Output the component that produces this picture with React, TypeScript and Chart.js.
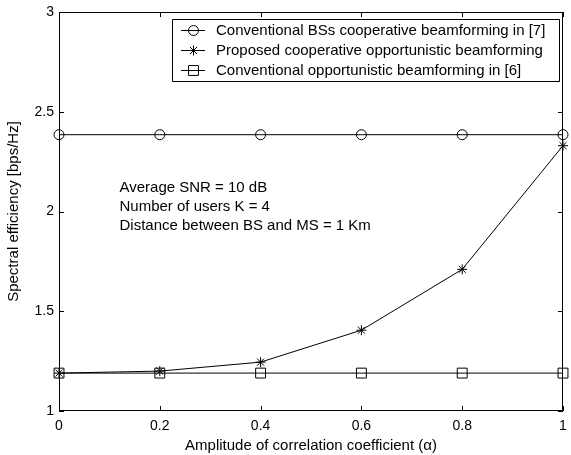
import React, { useEffect, useRef } from 'react';
import { Chart, registerables } from 'chart.js';

Chart.register(...registerables);

const alpha = [0, 0.2, 0.4, 0.6, 0.8, 1];
const conventionalCoop = [2.385, 2.385, 2.385, 2.385, 2.385, 2.385];
const proposedCoopOpp = [1.19, 1.2, 1.245, 1.405, 1.71, 2.33];
const conventionalOpp = [1.19, 1.19, 1.19, 1.19, 1.19, 1.19];
const seriesLabels = [
  'Conventional BSs cooperative beamforming in [7]',
  'Proposed cooperative opportunistic beamforming',
  'Conventional opportunistic beamforming in [6]',
];
const annotationLines = [
  'Average SNR = 10 dB',
  'Number of users K = 4',
  'Distance between BS and MS = 1 Km',
];
const xTitle = 'Amplitude of correlation coefficient (\u03b1)';
const yTitle = 'Spectral efficiency [bps/Hz]';

const FONT = '"Liberation Sans", Arial, sans-serif';

function drawMarker(ctx: CanvasRenderingContext2D, style: string, r: number, x: number, y: number) {
  ctx.save();
  ctx.strokeStyle = '#000';
  ctx.lineWidth = 1;
  ctx.beginPath();
  if (style === 'circle') {
    ctx.arc(x, y, r, 0, Math.PI * 2);
  } else if (style === 'rect') {
    const s = r * Math.SQRT1_2;
    ctx.rect(x - s, y - s, 2 * s, 2 * s);
  } else {
    ctx.moveTo(x - r, y); ctx.lineTo(x + r, y);
    ctx.moveTo(x, y - r); ctx.lineTo(x, y + r);
    const d = r * Math.SQRT1_2;
    ctx.moveTo(x - d, y - d); ctx.lineTo(x + d, y + d);
    ctx.moveTo(x - d, y + d); ctx.lineTo(x + d, y - d);
  }
  ctx.stroke();
  ctx.restore();
}

const framePlugin = {
  id: 'frame',
  afterDraw(chart: any) {
    const { ctx, chartArea } = chart;
    const { left, right, top, bottom } = chartArea;
    const xs = chart.scales.x;
    const ys = chart.scales.y;
    ctx.save();
    ctx.strokeStyle = '#000';
    ctx.lineWidth = 1;
    ctx.beginPath();
    ctx.rect(left + 0.5, top + 0.5, right - left - 1, bottom - top - 1);
    ctx.stroke();
    const tl = 5;
    ctx.beginPath();
    xs.ticks.forEach((t: any) => {
      const px = Math.round(xs.getPixelForValue(t.value)) + 0.5;
      ctx.moveTo(px, bottom);
      ctx.lineTo(px, bottom - tl);
      ctx.moveTo(px, top);
      ctx.lineTo(px, top + tl);
    });
    ys.ticks.forEach((t: any) => {
      const py = Math.round(ys.getPixelForValue(t.value)) + 0.5;
      ctx.moveTo(left, py);
      ctx.lineTo(left + tl, py);
      ctx.moveTo(right, py);
      ctx.lineTo(right - tl, py);
    });
    ctx.stroke();

    // annotation text
    ctx.fillStyle = '#000';
    ctx.font = `15px ${FONT}`;
    ctx.textAlign = 'left';
    ctx.textBaseline = 'alphabetic';
    const ax = xs.getPixelForValue(0.12);
    const ay = ys.getPixelForValue(2.1);
    annotationLines.forEach((s, i) => ctx.fillText(s, ax, ay + i * 19));

    // legend
    const lx = 172, ly = 19, lw = 387, lh = 62;
    ctx.fillStyle = '#fff';
    ctx.fillRect(lx, ly, lw, lh);
    ctx.beginPath();
    ctx.rect(lx + 0.5, ly + 0.5, lw, lh);
    ctx.stroke();
    chart.data.datasets.forEach((ds: any, i: number) => {
      const cy = ly + 11 + i * 20;
      ctx.strokeStyle = '#000';
      ctx.lineWidth = 1;
      ctx.beginPath();
      ctx.moveTo(lx + 9, cy + 0.5);
      ctx.lineTo(lx + 33, cy + 0.5);
      ctx.stroke();
      drawMarker(ctx, ds.pointStyle, ds.pointRadius, lx + 21.5, cy + 0.5);
      ctx.fillStyle = '#000';
      ctx.font = `15px ${FONT}`;
      ctx.textBaseline = 'middle';
      ctx.fillText(ds.label, lx + 44, cy + 1);
    });
    ctx.restore();
  },
};

const fmt = (v: any) => String(+Number(v).toFixed(2));
const zeroPad = (s: any) => { s.paddingLeft = 0; s.paddingRight = 0; s.paddingTop = 0; s.paddingBottom = 0; };

export default function App() {
  const ref = useRef<HTMLCanvasElement>(null);
  useEffect(() => {
    document.body.style.margin = '0';
    const mk = (vals: number[]) => alpha.map((a, i) => ({ x: a, y: vals[i] }));
    const chart = new Chart(ref.current!, {
      type: 'line',
      data: {
        datasets: [
          { label: seriesLabels[0], data: mk(conventionalCoop), pointStyle: 'circle', pointRadius: 5 },
          { label: seriesLabels[1], data: mk(proposedCoopOpp), pointStyle: 'star', pointRadius: 5 },
          { label: seriesLabels[2], data: mk(conventionalOpp), pointStyle: 'rect', pointRadius: 7 },
        ].map((d) => ({
          ...d,
          borderColor: '#000',
          borderWidth: 1,
          pointBorderColor: '#000',
          pointBackgroundColor: 'rgba(0,0,0,0)',
          pointBorderWidth: 1,
          fill: false,
          tension: 0,
          clip: false,
        })),
      },
      options: {
        responsive: false,
        animation: false,
        events: [],
        layout: { padding: { top: 12, right: 5, left: 0, bottom: 0 } },
        plugins: { legend: { display: false }, tooltip: { enabled: false } },
        scales: {
          x: {
            type: 'linear',
            min: 0,
            max: 1,
            grid: { display: false, drawTicks: false },
            border: { display: false },
            ticks: { stepSize: 0.2, color: '#000', padding: 7, callback: fmt, font: { family: FONT, size: 14 } },
            title: { display: true, text: xTitle, color: '#000', padding: { top: 5, bottom: 0 }, font: { family: FONT, size: 15 } },
            afterFit: (s: any) => { s.height = 44; zeroPad(s); },
          },
          y: {
            min: 1,
            max: 3,
            grid: { display: false, drawTicks: false },
            border: { display: false },
            ticks: { stepSize: 0.5, color: '#000', padding: 5, callback: fmt, font: { family: FONT, size: 14 } },
            title: { display: true, text: yTitle, color: '#000', padding: { top: 5, bottom: 0 }, font: { family: FONT, size: 15 } },
            afterFit: (s: any) => { s.width = 59; zeroPad(s); },
          },
        },
      },
      plugins: [framePlugin],
    } as any);
    return () => chart.destroy();
  }, []);
  return (
    <div style={{ position: 'absolute', left: 0, top: 0, width: 571, height: 455 }}>
      <canvas ref={ref} width={571} height={455} style={{ display: 'block' }} />
    </div>
  );
}
